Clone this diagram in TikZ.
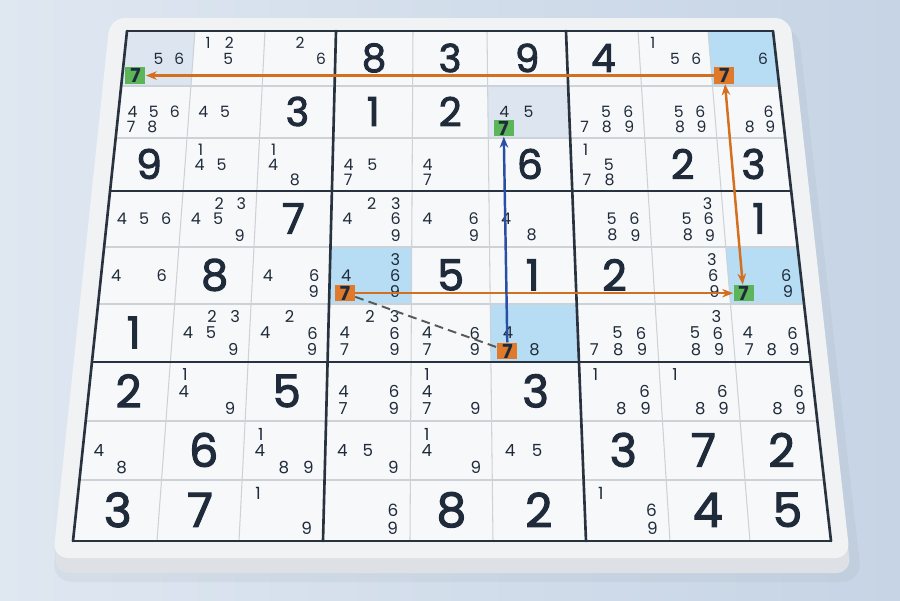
\documentclass[tikz,border=0pt]{standalone}
\usepackage{fontspec}
\setmainfont{Poppins}
\newfontfamily\givenfont{Poppins}[FakeBold=2.4]
\usetikzlibrary{arrows.meta,positioning}

\definecolor{ink}{HTML}{1F2B3A}
\definecolor{gridthin}{HTML}{CDD2D8}
\definecolor{gridthick}{HTML}{29333F}
\definecolor{cellbg}{HTML}{F7F8FA}
\definecolor{boardface}{HTML}{F0F2F4}
\definecolor{boardside}{HTML}{DDE1E6}
\definecolor{bgleft}{HTML}{DFE7F1}
\definecolor{bgright}{HTML}{C6D4E5}
\definecolor{hlgray}{HTML}{DDE6F0}
\definecolor{hlblue}{HTML}{B6DDF3}
\definecolor{mkgreen}{HTML}{5DB55A}
\definecolor{mkorange}{HTML}{E07A2A}
\definecolor{chainorange}{HTML}{D2701F}
\definecolor{chainblue}{HTML}{2A4EA6}

% grid lines of the board, in pixels
\def\rowY{{31,86,138,191,247,304,362,421,480,541}}
\def\colT{{127,195,265,336,413,487,566,638,708,773}}
\def\colB{{73,157,239,323,410,493,586,670,750,831}}

% point at fraction (#3,#4) of cell row #1, column #2
\newcommand{\gridpt}[4]{%
  \pgfmathtruncatemacro{\gnr}{#1+1}%
  \pgfmathtruncatemacro{\gnc}{#2+1}%
  \pgfmathsetmacro{\gy}{\rowY[#1]+(#4)*(\rowY[\gnr]-\rowY[#1])}%
  \pgfmathsetmacro{\gsd}{(\gy-31)/510}%
  \pgfmathsetmacro{\gxl}{\colT[#2]+\gsd*(\colB[#2]-\colT[#2])}%
  \pgfmathsetmacro{\gxr}{\colT[\gnc]+\gsd*(\colB[\gnc]-\colT[\gnc])}%
  \pgfmathsetmacro{\gx}{\gxl+(#3)*(\gxr-\gxl)}%
}

\tikzset{
  thinline/.style={draw=gridthin, line width=0.6pt},
  thickline/.style={draw=gridthick, line width=1.5pt, line cap=round},
  given/.style={text=ink, inner sep=0pt, font=\givenfont\fontsize{#1}{#1}\selectfont},
  cand/.style={text=ink, inner sep=0pt, font=\fontsize{#1}{#1}\selectfont},
  marker/.style={fill=#1, text=ink, inner sep=0pt, minimum width=0.4cm, minimum height=0.33cm,
    font=\bfseries\fontsize{11}{11}\selectfont},
  chain/.style={draw=chainorange, line width=1.4pt},
  link/.style={draw=chainblue, line width=1.4pt},
  weak/.style={draw=black!65, line width=1.1pt, dash pattern=on 5pt off 3pt},
}

\begin{document}
\begin{tikzpicture}[x=0.02cm, y=-0.02cm, >={Stealth[length=0.22cm, width=0.17cm]}]
  \useasboundingbox (0,0) rectangle (900,600);
  % backdrop and board
  \shade[left color=bgleft, right color=bgright] (0,0) rectangle (900,600);
  \fill[bgright!75!black, opacity=0.12, rounded corners=0.4cm] (116,26) -- (798,26) -- (862,582) -- (52,582) -- cycle;
  \fill[boardside, rounded corners=0.3cm] (110,22) -- (790,22) -- (851,573) -- (54,573) -- cycle;
  \fill[boardface, rounded corners=0.3cm] (110,18) -- (790,18) -- (850,558) -- (53,558) -- cycle;
  \fill[cellbg] (127,31) -- (773,31) -- (831,541) -- (73,541) -- cycle;

  % highlighted cells
  \foreach \r/\c/\hl in {0/0/hlgray, 1/5/hlgray, 0/8/hlblue, 4/3/hlblue, 4/8/hlblue, 5/5/hlblue} {
    \gridpt{\r}{\c}{0}{0} \coordinate (h1) at (\gx,\gy);
    \gridpt{\r}{\c}{1}{0} \coordinate (h2) at (\gx,\gy);
    \gridpt{\r}{\c}{1}{1} \coordinate (h3) at (\gx,\gy);
    \gridpt{\r}{\c}{0}{1} \coordinate (h4) at (\gx,\gy);
    \fill[\hl] (h1) -- (h2) -- (h3) -- (h4) -- cycle;
  }

  % grid
  \foreach \i in {0,...,9} {
    \pgfmathsetmacro\ly{\rowY[\i]}
    \pgfmathsetmacro\ls{(\ly-31)/510}
    \pgfmathsetmacro\tx{\colT[\i]}
    \pgfmathsetmacro\bx{\colB[\i]}
    \draw[thinline] (127-54*\ls,\ly) -- (773+58*\ls,\ly);
    \draw[thinline] (\tx,31) -- (\bx,541);
  }
  \foreach \i in {0,3,6,9} {
    \pgfmathsetmacro\ly{\rowY[\i]}
    \pgfmathsetmacro\ls{(\ly-31)/510}
    \pgfmathsetmacro\tx{\colT[\i]}
    \pgfmathsetmacro\bx{\colB[\i]}
    \draw[thickline] (127-54*\ls,\ly) -- (773+58*\ls,\ly);
    \draw[thickline] (\tx,31) -- (\bx,541);
  }

  % givens
  \foreach \r/\c/\d in {0/3/8, 0/4/3, 0/5/9, 0/6/4, 1/2/3, 1/3/1, 1/4/2,
      2/0/9, 2/5/6, 2/7/2, 2/8/3, 3/2/7, 3/8/1, 4/1/8, 4/4/5, 4/5/1, 4/6/2,
      5/0/1, 6/0/2, 6/2/5, 6/5/3, 7/1/6, 7/6/3, 7/7/7, 7/8/2,
      8/0/3, 8/1/7, 8/4/8, 8/5/2, 8/7/4, 8/8/5} {
    \gridpt{\r}{\c}{0.5}{0.49}
    \pgfmathsetmacro\bs{22+0.6*\r}
    \node[given=\bs] (g\r\c) at (\gx,\gy) {\d};
  }

  % candidates
  \foreach \r/\c/\ds in {0/0/{5,6}, 0/1/{1,2,5}, 0/2/{2,6}, 0/7/{1,5,6}, 0/8/{6},
      1/0/{4,5,6,7,8}, 1/1/{4,5}, 1/5/{4,5}, 1/6/{5,6,7,8,9}, 1/7/{5,6,8,9}, 1/8/{6,8,9},
      2/1/{1,4,5}, 2/2/{1,4,8}, 2/3/{4,5,7}, 2/4/{4,7}, 2/6/{1,5,7,8},
      3/0/{4,5,6}, 3/1/{2,3,4,5,9}, 3/3/{2,3,4,6,9}, 3/4/{4,6,9}, 3/5/{4,8}, 3/6/{5,6,8,9}, 3/7/{3,5,6,8,9},
      4/0/{4,6}, 4/2/{4,6,9}, 4/3/{3,4,6,9}, 4/7/{3,6,9}, 4/8/{6,9},
      5/1/{2,3,4,5,9}, 5/2/{2,4,6,9}, 5/3/{2,3,4,6,7,9}, 5/4/{4,6,7,9}, 5/5/{4,8},
      5/6/{5,6,7,8,9}, 5/7/{3,5,6,8,9}, 5/8/{4,6,7,8,9},
      6/1/{1,4,9}, 6/3/{4,6,7,9}, 6/4/{1,4,7,9}, 6/6/{1,6,8,9}, 6/7/{1,6,8,9}, 6/8/{6,8,9},
      7/0/{4,8}, 7/2/{1,4,8,9}, 7/3/{4,5,9}, 7/4/{1,4,9}, 7/5/{4,5},
      8/2/{1,9}, 8/3/{6,9}, 8/6/{1,6,9}} {
    \pgfmathsetmacro\ks{8.8+0.1*\r}
    \foreach \d in \ds {
      \pgfmathtruncatemacro\ci{mod(\d-1,3)}
      \pgfmathtruncatemacro\cj{(\d-1)/3}
      \pgfmathsetmacro\ca{{0.2,0.5,0.8}[\ci]}
      \pgfmathsetmacro\cb{{0.22,0.5,0.79}[\cj]}
      \gridpt{\r}{\c}{\ca}{\cb}
      \node[cand=\ks] (k\r\c\d) at (\gx,\gy) {\d};
    }
  }

  % the sevens of the chain
  \foreach \r/\c/\mk in {0/0/mkgreen, 0/8/mkorange, 1/5/mkgreen, 4/3/mkorange, 4/8/mkgreen, 5/5/mkorange} {
    \gridpt{\r}{\c}{0.19}{0.81}
    \node[marker=\mk] (m\r\c) at (\gx,\gy) {7};
  }

  \draw[chain, ->] (m08) -- (m00);
  \draw[chain, <->] (m48) -- (m08);
  \draw[chain, ->] (m43) -- (m48);
  \draw[link, ->] (m55) -- (m15);
  \draw[weak] (m43) -- (m55);
\end{tikzpicture}
\end{document}
